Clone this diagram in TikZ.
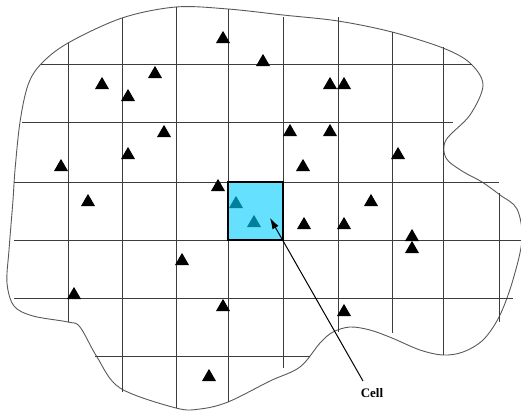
\documentclass[tikz,border=0pt]{standalone}
\usepackage{fontspec}
\setmainfont{Liberation Serif}
\usetikzlibrary{shapes.geometric,arrows.meta}
\definecolor{cellfill}{RGB}{102,224,255}
\definecolor{tealtri}{RGB}{0,128,154}
\definecolor{gridc}{RGB}{60,60,60}
\tikzset{
  tri/.style={regular polygon, regular polygon sides=3, minimum size=16.2pt, inner sep=0pt, fill=black, yshift=-2pt},
  ttri/.style={tri, fill=tealtri},
  gridline/.style={draw=gridc, line width=0.9pt},
  outline/.style={draw=black!65, line width=0.9pt},
  cellbox/.style={rectangle, minimum width=55pt, minimum height=58pt, inner sep=0pt, fill=cellfill, draw=black, line width=1.3pt},
  lab/.style={font=\fontsize{13}{15}\selectfont\bfseries, inner sep=1pt},
  pointer/.style={draw=black, line width=1pt, -{Latex[length=11pt,width=7pt]}}
}
\begin{document}
\begin{tikzpicture}[x=1pt,y=-1pt]
\useasboundingbox (0,0) rectangle (521,410);
% outline
\draw[outline] plot[smooth cycle, tension=0.55] coordinates {
 (176,7) (228,9) (283,15) (338,21) (392,32) (443,48) (470,63) (483,85)
 (470,115) (446,140) (446,158) (462,171) (482,182) (500,195) (517,209)
 (522,240) (512,283) (499,317) (483,340) (463,352) (443,355) (420,350)
 (392,338) (370,330) (350,327) (333,332) (320,343) (300,367) (270,381)
 (228,402) (200,409) (176,408) (120,388) (97,357) (80,327) (68,322)
 (33,316) (14,306) (7,283) (9,250) (13,200) (15,170) (20,122) (28,85)
 (41,64) (68,43) (122,18)
};
% grid
\foreach \x/\a/\b in {68/43/322, 122/18/392, 176/7/408, 228/9/402, 283/17/368, 338/17/332, 392/32/333, 443/47/355, 499/193/322}
  \draw[gridline] (\x,\a) -- (\x,\b);
\foreach \y/\a/\b in {64/41/472, 122/22/453, 182/14/499, 240/14/521, 298/14/513, 356/95/310}
  \draw[gridline] (\a,\y) -- (\b,\y);
% cell
\node[cellbox] (cell) at (255.5,211) {};
% triangles
\foreach \n/\x/\y in {1/223/37, 2/263/60, 3/155/72, 4/102/83, 5/128/95, 6/164/131, 7/128/153, 8/61/165, 9/218/185, 10/88/200, 11/330/83, 12/344/83, 13/290/130, 14/330/130, 15/398/153, 16/303/165, 17/371/200, 18/182/259, 19/74/293, 20/223/305, 21/209/375, 22/304/223, 23/344/223, 24/412/235, 25/412/247, 26/344/310}
  \node[tri] (t\n) at (\x,\y) {};
\node[ttri] (ta) at (236,202) {};
\node[ttri] (tb) at (254,221) {};
% label and pointer
\node[lab] (lbl) at (372,393) {Cell};
\coordinate (pstart) at (363,381);
\coordinate (ptip) at (270,218);
\draw[pointer] (pstart) -- (ptip);
\end{tikzpicture}
\end{document}
